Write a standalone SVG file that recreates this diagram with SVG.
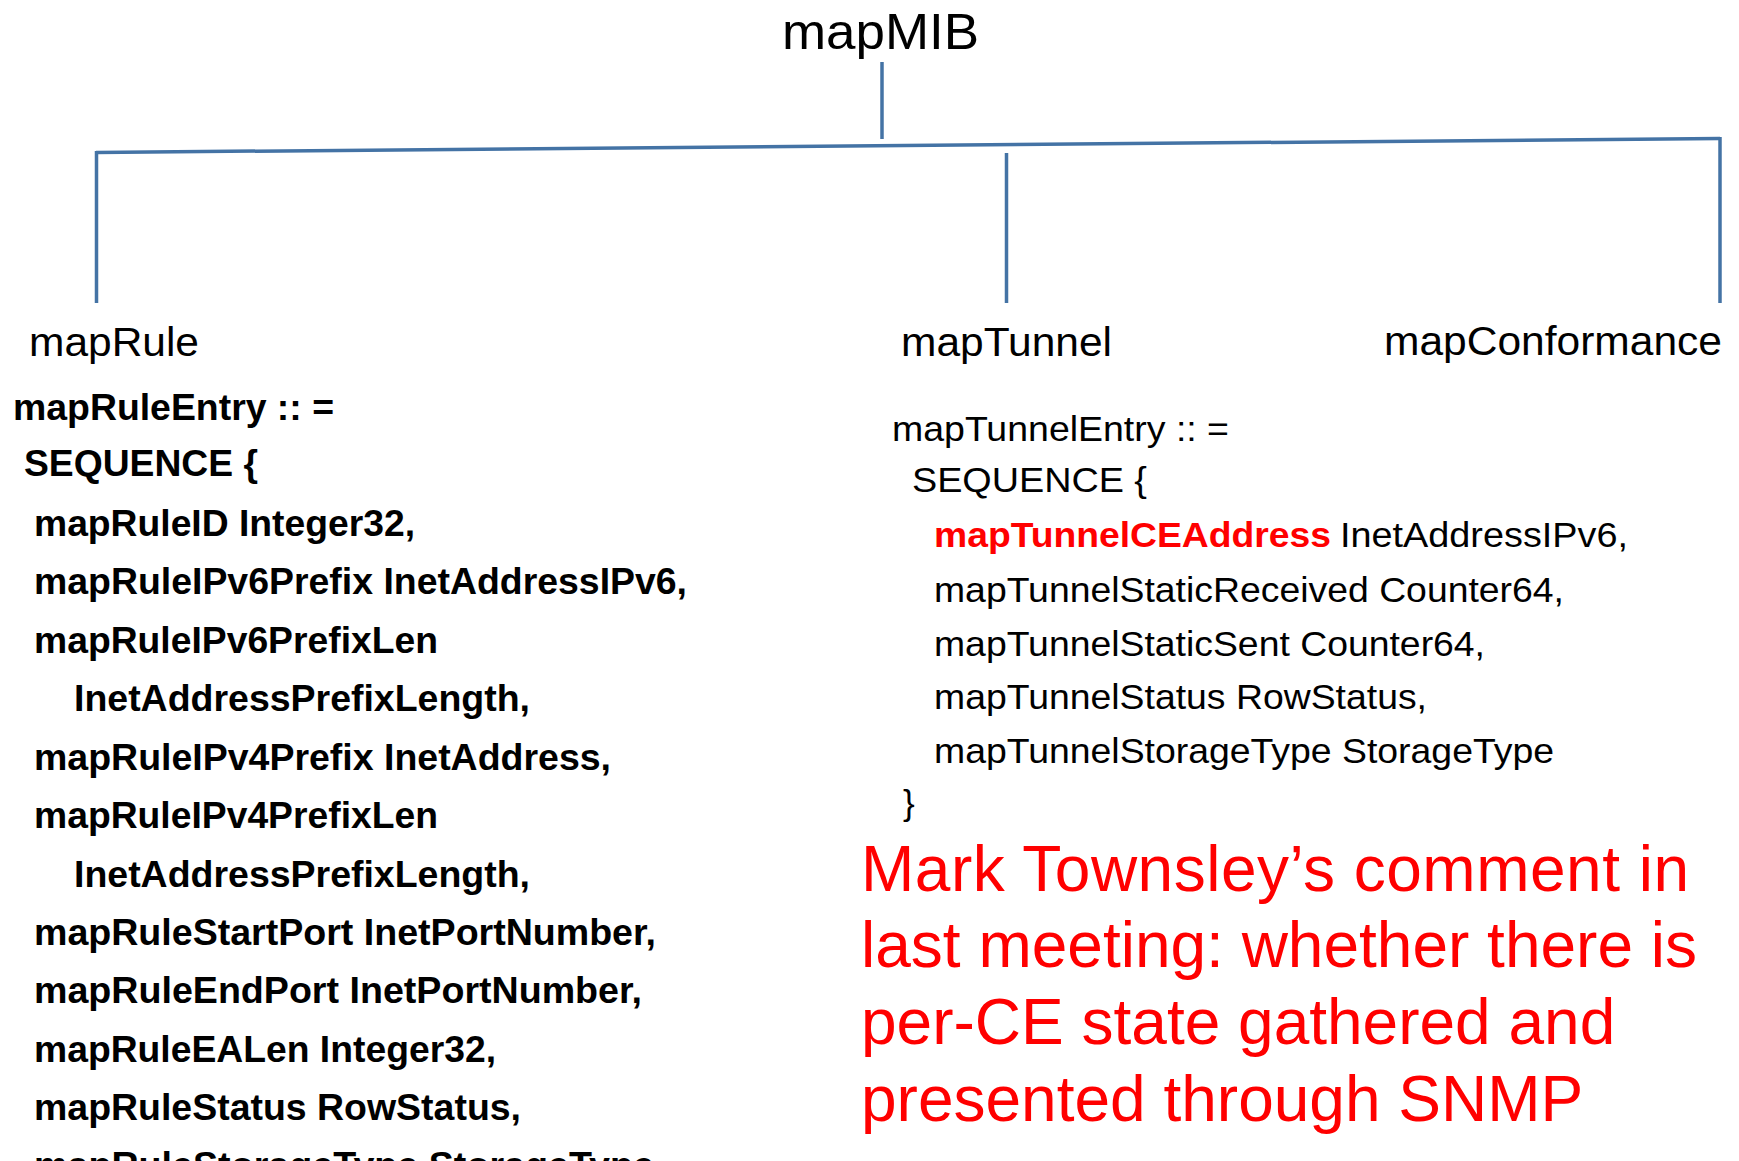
<svg xmlns="http://www.w3.org/2000/svg" width="1739" height="1161" viewBox="0 0 1739 1161">
<style>
  text { font-family: "Liberation Sans", Arial, sans-serif; fill: #000; }
  .hdr { font-size: 41px; }
  .top { font-size: 50px; }
  .rule { font-size: 36px; font-weight: bold; }
  .tun { font-size: 35px; }
  .hl { font-size: 35px; font-weight: bold; fill: #ff0000; }
  .note { font-size: 64px; fill: #ff0000; }
  .conn { stroke: #4473a5; stroke-width: 3.5; fill: none; }
</style>
<rect width="1739" height="1161" fill="#ffffff"/>
<g id="connectors">
  <line class="conn" x1="882" y1="62" x2="882" y2="139"/>
  <line class="conn" x1="96" y1="152.5" x2="1720" y2="138.5"/>
  <line class="conn" x1="96.5" y1="151" x2="96.5" y2="303"/>
  <line class="conn" x1="1006.5" y1="153" x2="1006.5" y2="303"/>
  <line class="conn" x1="1720" y1="137" x2="1720" y2="303"/>
</g>
<g id="mapMIB">
  <text class="top" x="782" y="49" textLength="197" lengthAdjust="spacingAndGlyphs">mapMIB</text>
</g>
<g id="mapRule">
  <text class="hdr" x="29" y="356" textLength="170" lengthAdjust="spacingAndGlyphs">mapRule</text>
  <text class="rule" x="13" y="420" textLength="321" lengthAdjust="spacingAndGlyphs">mapRuleEntry :: =</text>
  <text class="rule" x="24" y="476" textLength="234" lengthAdjust="spacingAndGlyphs">SEQUENCE {</text>
  <text class="rule" x="34" y="536" textLength="381" lengthAdjust="spacingAndGlyphs">mapRuleID Integer32,</text>
  <text class="rule" x="34" y="594" textLength="653" lengthAdjust="spacingAndGlyphs">mapRuleIPv6Prefix InetAddressIPv6,</text>
  <text class="rule" x="34" y="653" textLength="404" lengthAdjust="spacingAndGlyphs">mapRuleIPv6PrefixLen</text>
  <text class="rule" x="74" y="711" textLength="456" lengthAdjust="spacingAndGlyphs">InetAddressPrefixLength,</text>
  <text class="rule" x="34" y="770" textLength="577" lengthAdjust="spacingAndGlyphs">mapRuleIPv4Prefix InetAddress,</text>
  <text class="rule" x="34" y="828" textLength="404" lengthAdjust="spacingAndGlyphs">mapRuleIPv4PrefixLen</text>
  <text class="rule" x="74" y="887" textLength="456" lengthAdjust="spacingAndGlyphs">InetAddressPrefixLength,</text>
  <text class="rule" x="34" y="945" textLength="622" lengthAdjust="spacingAndGlyphs">mapRuleStartPort InetPortNumber,</text>
  <text class="rule" x="34" y="1003" textLength="608" lengthAdjust="spacingAndGlyphs">mapRuleEndPort InetPortNumber,</text>
  <text class="rule" x="34" y="1062" textLength="462" lengthAdjust="spacingAndGlyphs">mapRuleEALen Integer32,</text>
  <text class="rule" x="34" y="1120" textLength="487" lengthAdjust="spacingAndGlyphs">mapRuleStatus RowStatus,</text>
  <text class="rule" x="34" y="1178" textLength="620" lengthAdjust="spacingAndGlyphs">mapRuleStorageType StorageType</text>
</g>
<g id="mapTunnel">
  <text class="hdr" x="901" y="356" textLength="211" lengthAdjust="spacingAndGlyphs">mapTunnel</text>
  <text class="tun" x="892" y="441" textLength="337" lengthAdjust="spacingAndGlyphs">mapTunnelEntry :: =</text>
  <text class="tun" x="912" y="492" textLength="235" lengthAdjust="spacingAndGlyphs">SEQUENCE {</text>
  <text class="hl" x="934" y="547" textLength="397" lengthAdjust="spacingAndGlyphs">mapTunnelCEAddress</text>
  <text class="tun" x="1340" y="547" textLength="288" lengthAdjust="spacingAndGlyphs">InetAddressIPv6,</text>
  <text class="tun" x="934" y="602" textLength="630" lengthAdjust="spacingAndGlyphs">mapTunnelStaticReceived Counter64,</text>
  <text class="tun" x="934" y="656" textLength="551" lengthAdjust="spacingAndGlyphs">mapTunnelStaticSent Counter64,</text>
  <text class="tun" x="934" y="709" textLength="493" lengthAdjust="spacingAndGlyphs">mapTunnelStatus RowStatus,</text>
  <text class="tun" x="934" y="763" textLength="620" lengthAdjust="spacingAndGlyphs">mapTunnelStorageType StorageType</text>
  <text class="tun" x="903" y="815">}</text>
</g>
<g id="mapConformance">
  <text class="hdr" x="1384" y="355" textLength="338" lengthAdjust="spacingAndGlyphs">mapConformance</text>
</g>
<g id="comment">
  <text class="note" x="861" y="891" textLength="828" lengthAdjust="spacing">Mark Townsley’s comment in</text>
  <text class="note" x="861" y="967">last meeting: whether there is</text>
  <text class="note" x="861" y="1044">per-CE state gathered and</text>
  <text class="note" x="861" y="1121">presented through SNMP</text>
</g>
</svg>
